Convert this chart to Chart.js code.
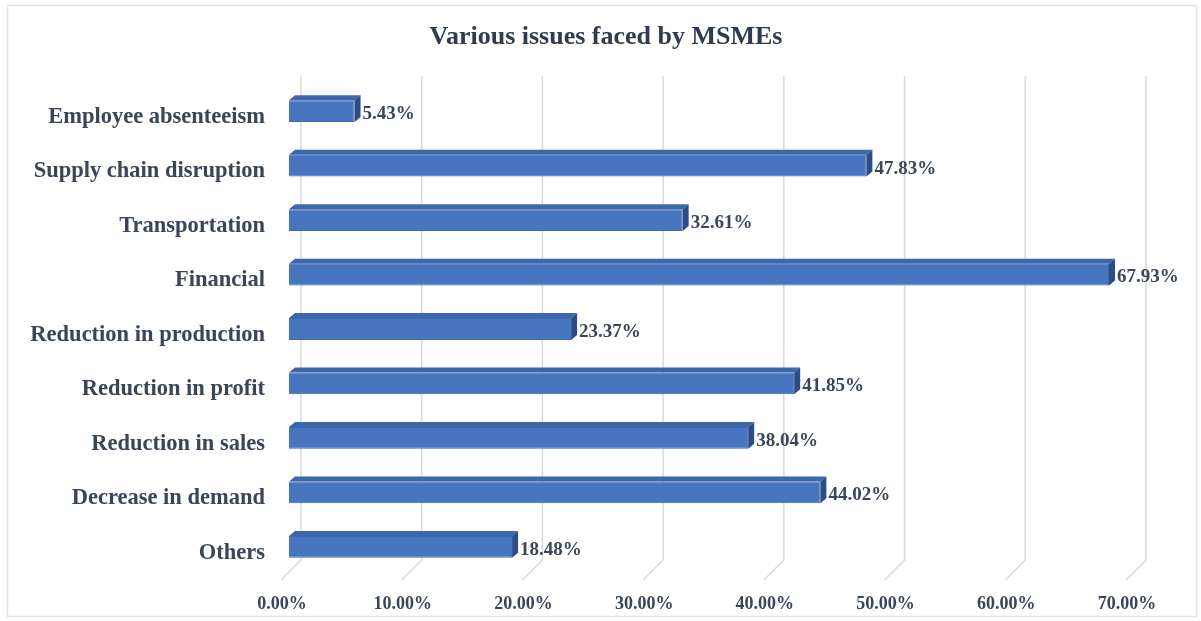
<!DOCTYPE html>
<html>
<head>
<meta charset="utf-8">
<script src="https://cdn.jsdelivr.net/npm/chart.js@4/dist/chart.umd.min.js"></script>
<style>
  html, body { margin: 0; padding: 0; background: #ffffff; }
  #wrap { width: 1201px; height: 621px; }
</style>
</head>
<body>
<div id="wrap"><canvas id="c" width="1201" height="621"></canvas></div>
<script>
const chartTitle = 'Various issues faced by MSMEs';
const categories = [
  'Employee absenteeism',
  'Supply chain disruption',
  'Transportation',
  'Financial',
  'Reduction in production',
  'Reduction in profit',
  'Reduction in sales',
  'Decrease in demand',
  'Others'
];
const values = [5.43, 47.83, 32.61, 67.93, 23.37, 41.85, 38.04, 44.02, 18.48];
const xTicks = [0, 10, 20, 30, 40, 50, 60, 70];

const SERIF = '"Liberation Serif", "Times New Roman", serif';
const TEXT = '#3a4658';
const DEPTH_X = 6, DEPTH_Y = 5;

const frame = {
  id: 'frame',
  beforeDraw(chart) {
    const ctx = chart.ctx;
    ctx.save();
    ctx.fillStyle = '#ffffff';
    ctx.fillRect(0, 0, chart.width, chart.height);
    ctx.strokeStyle = '#e4e4e4';
    ctx.lineWidth = 1.5;
    ctx.strokeRect(7.5, 5.5, chart.width - 12, chart.height - 10);
    // title
    ctx.fillStyle = '#2f3c4f';
    ctx.font = 'bold 26px ' + SERIF;
    ctx.textAlign = 'center';
    ctx.textBaseline = 'middle';
    ctx.fillText(chartTitle, 606, 37);
    ctx.restore();
  }
};

const grid3d = {
  id: 'grid3d',
  beforeDatasetsDraw(chart) {
    const ctx = chart.ctx, xs = chart.scales.x, area = chart.chartArea;
    ctx.save();
    ctx.strokeStyle = '#d9d9d9';
    ctx.lineWidth = 1.5;
    xTicks.forEach(v => {
      const px = xs.getPixelForValue(v);
      ctx.beginPath();
      ctx.moveTo(px + 12, area.top - 8);
      ctx.lineTo(px + 12, area.bottom - 14);
      ctx.lineTo(px - 8, area.bottom + 6);
      ctx.stroke();
    });
    ctx.restore();
  }
};

const bars3d = {
  id: 'bars3d',
  afterDatasetsDraw(chart) {
    const ctx = chart.ctx;
    const meta = chart.getDatasetMeta(0);
    ctx.save();
    meta.data.forEach((bar, i) => {
      const p = bar.getProps(['x', 'y', 'base', 'height'], true);
      const top = p.y - p.height / 2, bottom = p.y + p.height / 2;
      ctx.beginPath();
      ctx.moveTo(p.base, top);
      ctx.lineTo(p.base + DEPTH_X, top - DEPTH_Y);
      ctx.lineTo(p.x + DEPTH_X, top - DEPTH_Y);
      ctx.lineTo(p.x, top);
      ctx.closePath();
      ctx.fillStyle = '#3e66ab';
      ctx.fill();
      ctx.beginPath();
      ctx.moveTo(p.x, top);
      ctx.lineTo(p.x + DEPTH_X, top - DEPTH_Y);
      ctx.lineTo(p.x + DEPTH_X, bottom - DEPTH_Y);
      ctx.lineTo(p.x, bottom);
      ctx.closePath();
      ctx.fillStyle = '#2c4c86';
      ctx.fill();
      ctx.fillStyle = TEXT;
      ctx.font = 'bold 19px ' + SERIF;
      ctx.textAlign = 'left';
      ctx.textBaseline = 'middle';
      ctx.fillText(values[i].toFixed(2) + '%', p.x + DEPTH_X + 2, p.y + 3);
    });
    ctx.restore();
  }
};

new Chart(document.getElementById('c'), {
  type: 'bar',
  data: {
    labels: categories,
    datasets: [{
      data: values,
      backgroundColor: '#4875c0',
      borderColor: '#3d67ae',
      borderWidth: 1,
      barPercentage: 0.4,
      categoryPercentage: 1.0
    }]
  },
  options: {
    indexAxis: 'y',
    responsive: false,
    animation: false,
    devicePixelRatio: 1,
    layout: { padding: { left: 0, right: 67, top: 84, bottom: 0 } },
    plugins: {
      legend: { display: false },
      tooltip: { enabled: false },
      title: { display: false }
    },
    scales: {
      x: {
        min: 0,
        max: 70,
        afterBuildTicks: s => { s.ticks = xTicks.map(v => ({ value: v })); },
        afterFit: s => { s.height = 47; },
        grid: { display: false, drawTicks: false },
        border: { display: false },
        ticks: {
          color: TEXT,
          font: { family: SERIF, size: 18, weight: 'bold' },
          padding: 20,
          labelOffset: -7,
          maxRotation: 0,
          autoSkip: false,
          callback: v => Number(v).toFixed(2) + '%'
        }
      },
      y: {
        afterFit: s => { s.width = 289; },
        grid: { display: false, drawTicks: false },
        border: { display: false },
        ticks: {
          color: TEXT,
          font: { family: SERIF, size: 22.5, weight: 'bold' },
          padding: 24,
          labelOffset: 6,
          autoSkip: false
        }
      }
    }
  },
  plugins: [frame, grid3d, bars3d]
});
</script>
</body>
</html>
